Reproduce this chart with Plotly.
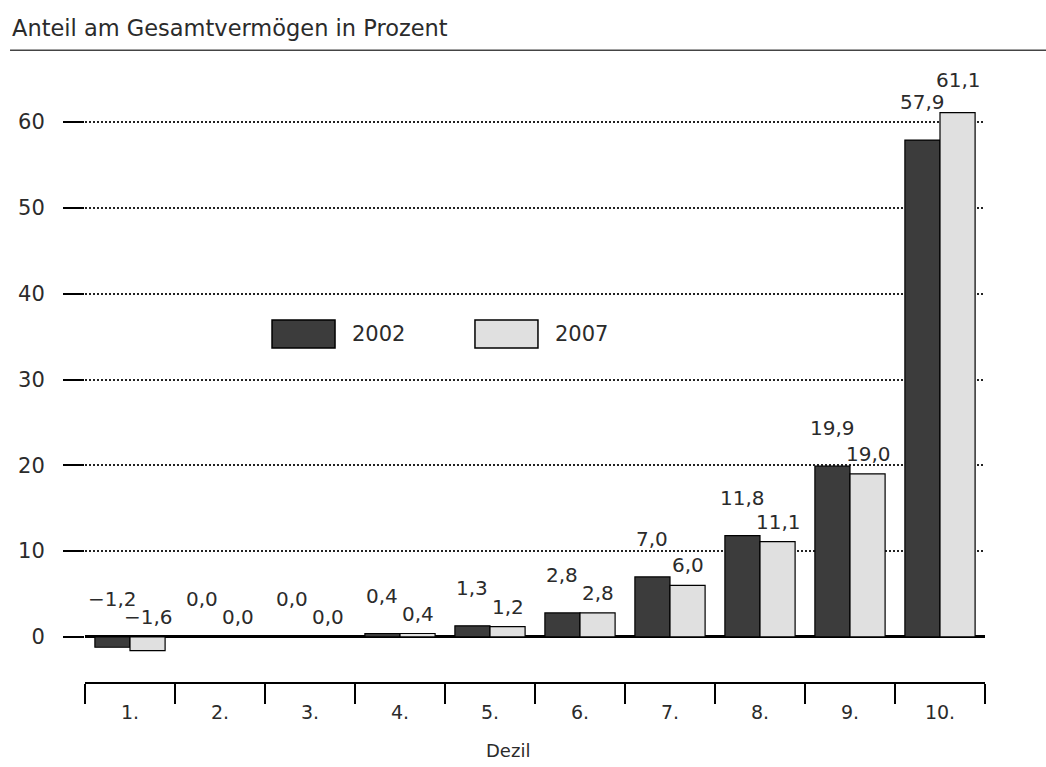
import plotly.graph_objects as go

# Daten
dezile = ["1.", "2.", "3.", "4.", "5.", "6.", "7.", "8.", "9.", "10."]
werte_2002 = [-1.2, 0.0, 0.0, 0.4, 1.3, 2.8, 7.0, 11.8, 19.9, 57.9]
werte_2007 = [-1.6, 0.0, 0.0, 0.4, 1.2, 2.8, 6.0, 11.1, 19.0, 61.1]
y_ticks = [0, 10, 20, 30, 40, 50, 60]

FONT = "DejaVu Sans"
TXT = "#2b2b2b"
DUNKEL = "#3c3c3c"
HELL = "#e0e0e0"

Y_MIN, Y_MAX = -5.25, 67
PLOT_H = 620
PX = PLOT_H / (Y_MAX - Y_MIN)  # Pixel je Prozentpunkt


def fmt(v):
    # deutsches Zahlenformat mit Komma und echtem Minus
    return f"{v:.1f}".replace(".", ",").replace("-", "\u2212")


fig = go.Figure()
fig.add_bar(x=dezile, y=werte_2002, name="2002",
            marker=dict(color=DUNKEL, line=dict(color="black", width=1.2)))
fig.add_bar(x=dezile, y=werte_2007, name="2007",
            marker=dict(color=HELL, line=dict(color="black", width=1.2)))

annots = []
# Werte über den Balken, 2002 etwas höher als 2007
# (x als Index, sonst wird "1." als Zahl gelesen)
for i, (v1, v2) in enumerate(zip(werte_2002, werte_2007)):
    s1, s2 = 38, 20
    # wenn der 2007-Balken höher ist, Beschriftung über die von 2002 setzen
    p1 = max(v1, 0) * PX + s1
    p2 = max(v2, 0) * PX + s2
    if p2 > p1 - 15:
        s2 = p1 + 22 - max(v2, 0) * PX
    annots.append(dict(x=i, y=max(v1, 0), text=fmt(v1), xshift=-18, yshift=s1,
                       showarrow=False, yanchor="middle",
                       font=dict(size=20, color=TXT, family=FONT)))
    annots.append(dict(x=i, y=max(v2, 0), text=fmt(v2), xshift=18, yshift=s2,
                       showarrow=False, yanchor="middle",
                       font=dict(size=20, color=TXT, family=FONT)))

# Überschrift und Achsentitel
annots.append(dict(xref="paper", yref="paper", x=-0.0833, y=1.0548,
                   text="Anteil am Gesamtvermögen in Prozent", showarrow=False,
                   xanchor="left", yanchor="middle",
                   font=dict(size=22.5, color=TXT, family=FONT)))
annots.append(dict(xref="paper", yref="paper", x=0.47, y=-0.11,
                   text="Dezil", showarrow=False, yanchor="middle",
                   font=dict(size=18, color=TXT, family=FONT)))

# eigene Legende
annots.append(dict(xref="paper", yref="paper", x=0.2944, y=0.561, text="2002",
                   showarrow=False, xanchor="left", yanchor="middle",
                   font=dict(size=21, color=TXT, family=FONT)))
annots.append(dict(xref="paper", yref="paper", x=0.52, y=0.561, text="2007",
                   showarrow=False, xanchor="left", yanchor="middle",
                   font=dict(size=21, color=TXT, family=FONT)))

shapes = [
    dict(type="line", xref="paper", yref="paper", x0=-0.0833, x1=1.07,
         y0=1.019, y1=1.019, line=dict(color="#444", width=1.5)),
    dict(type="rect", xref="paper", yref="paper", x0=0.2078, x1=0.2778,
         y0=0.5387, y1=0.5839, fillcolor=DUNKEL, line=dict(color="black", width=1.5)),
    dict(type="rect", xref="paper", yref="paper", x0=0.4333, x1=0.5033,
         y0=0.5387, y1=0.5839, fillcolor=HELL, line=dict(color="black", width=1.5)),
]

fig.update_layout(
    width=1046, height=767,
    margin=dict(l=85, r=61, t=62, b=85),
    barmode="group", bargap=0.22, bargroupgap=0,
    plot_bgcolor="white", paper_bgcolor="white",
    showlegend=False,
    annotations=annots, shapes=shapes,
    font=dict(family=FONT, color=TXT),
)
fig.update_xaxes(
    type="category", tickson="boundaries", ticks="outside", ticklen=20,
    tickwidth=1.5, tickcolor="black", showline=True, linecolor="black",
    linewidth=1.5, showgrid=False, ticklabelstandoff=12,
    tickfont=dict(size=19, color=TXT, family=FONT),
    range=[-0.5, 9.5],
)
fig.update_yaxes(
    range=[Y_MIN, Y_MAX], tickvals=y_ticks, ticks="outside", ticklen=21,
    tickwidth=1.5, tickcolor="black", ticklabelstandoff=14,
    showgrid=True, gridcolor="#222", gridwidth=1.5, griddash="2px,2px",
    zeroline=True, zerolinecolor="black", zerolinewidth=3,
    showline=False, tickfont=dict(size=21, color=TXT, family=FONT),
)

# Browser-Standardrand des body entfernen, damit die Ränder stimmen
fig.write_html("out.html", config={"displayModeBar": False},
               post_script="document.body.style.margin='0';")
